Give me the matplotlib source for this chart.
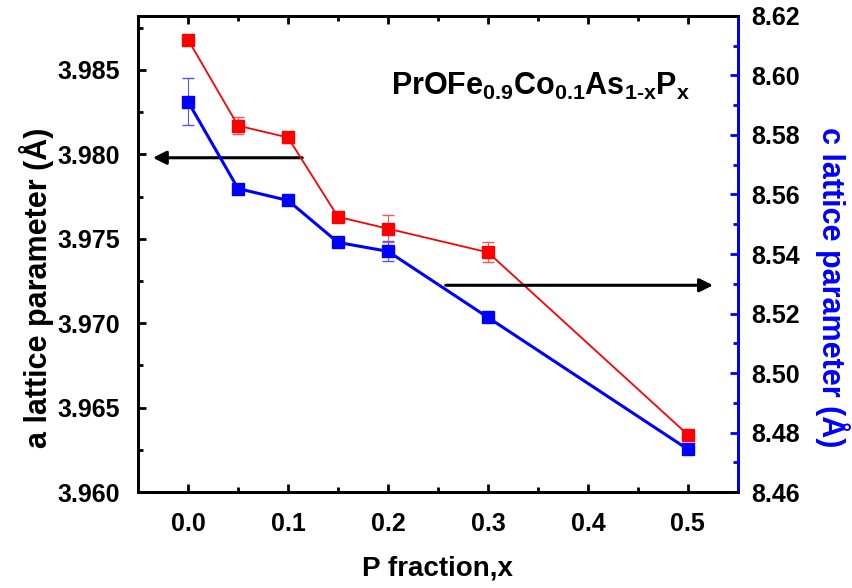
import matplotlib
matplotlib.use('Agg')
import matplotlib.pyplot as plt
from matplotlib.ticker import MultipleLocator

plt.rcParams['font.family'] = ['Liberation Sans', 'DejaVu Sans']
plt.rcParams['mathtext.fontset'] = 'custom'
plt.rcParams['mathtext.rm'] = 'Liberation Sans:bold'
plt.rcParams['mathtext.it'] = 'Liberation Sans:bold'
plt.rcParams['mathtext.bf'] = 'Liberation Sans:bold'

# datos
p_frac = [0.0, 0.05, 0.1, 0.15, 0.2, 0.3, 0.5]
a_lat = [3.9868, 3.9817, 3.9810, 3.9763, 3.9756, 3.9742, 3.9634]
a_err = [0.0, 0.0005, 0.0003, 0.0002, 0.0008, 0.0006, 0.0]
c_lat = [8.5912, 8.5620, 8.5580, 8.5439, 8.5409, 8.5187, 8.4744]
c_err = [0.008, 0.0015, 0.0, 0.0, 0.0034, 0.0015, 0.0]

fig, ax = plt.subplots(figsize=(8.52, 5.88), dpi=100)
fig.subplots_adjust(left=0.162, right=0.866, top=0.973, bottom=0.163)
ax2 = ax.twinx()

ax.errorbar(p_frac, a_lat, yerr=a_err, color='#ff0000', lw=1.3, marker='s', ms=8,
            capsize=4, elinewidth=0.8, ecolor='#ff5555', zorder=3)
ax2.errorbar(p_frac, c_lat, yerr=c_err, color='#0000ff', lw=2.2, marker='s', ms=8,
             capsize=4, elinewidth=0.8, ecolor='#5555ff', zorder=3)

ax.set_xlim(-0.05, 0.55)
ax.set_ylim(3.960, 3.9882)
ax2.set_ylim(8.46, 8.62)

ax.xaxis.set_major_locator(MultipleLocator(0.1))
ax.xaxis.set_minor_locator(MultipleLocator(0.05))
ax.yaxis.set_major_locator(MultipleLocator(0.005))
ax.yaxis.set_minor_locator(MultipleLocator(0.0025))
ax2.yaxis.set_major_locator(MultipleLocator(0.02))
ax2.yaxis.set_minor_locator(MultipleLocator(0.01))
ax.xaxis.set_major_formatter(plt.FormatStrFormatter('%.1f'))
ax.yaxis.set_major_formatter(plt.FormatStrFormatter('%.3f'))
ax2.yaxis.set_major_formatter(plt.FormatStrFormatter('%.2f'))

ax.tick_params(axis='x', which='both', direction='in', top=True, labelsize=18, pad=14)
ax.tick_params(axis='y', which='both', direction='in', labelsize=18, pad=13)
ax.tick_params(which='major', length=6, width=2)
ax.tick_params(which='minor', length=3.5, width=2)
ax2.tick_params(axis='y', which='both', direction='in', colors='#0000ff', labelcolor='black',
                labelsize=18, pad=10, width=2)
ax2.tick_params(which='major', length=6)
ax2.tick_params(which='minor', length=3.5)
for lab in ax.get_xticklabels() + ax.get_yticklabels() + ax2.get_yticklabels():
    lab.set_fontweight('bold')

for s in ax.spines.values():
    s.set_linewidth(2)
for name, s in ax2.spines.items():
    s.set_linewidth(2)
ax2.spines['right'].set_color('#0000ff')

ax.set_xlabel('P fraction,x', fontsize=20, fontweight='bold', labelpad=14)
ax.set_ylabel('a lattice parameter (Å)', fontsize=22, fontweight='bold')
ax2.set_ylabel('c lattice parameter (Å)', fontsize=22, fontweight='bold', color='#0000ff',
               rotation=270, va='center', ha='center')
ax.yaxis.set_label_coords(-0.14, 0.43)
ax2.yaxis.set_label_coords(1.158, 0.43)

# flechas
ax.annotate('', xy=(-0.038, 3.9798), xytext=(0.117, 3.9798),
            arrowprops=dict(arrowstyle='-|>', color='black', lw=2.2, mutation_scale=20))
ax2.annotate('', xy=(0.528, 8.5295), xytext=(0.255, 8.5295),
             arrowprops=dict(arrowstyle='-|>', color='black', lw=2.2, mutation_scale=20))

ax.text(0.203, 3.98352, r'PrOFe$_{0.9}$Co$_{0.1}$As$_{1\text{-}x}$P$_{x}$', fontsize=22,
        fontweight='bold', ha='left', va='baseline')

fig.savefig('out.png')
